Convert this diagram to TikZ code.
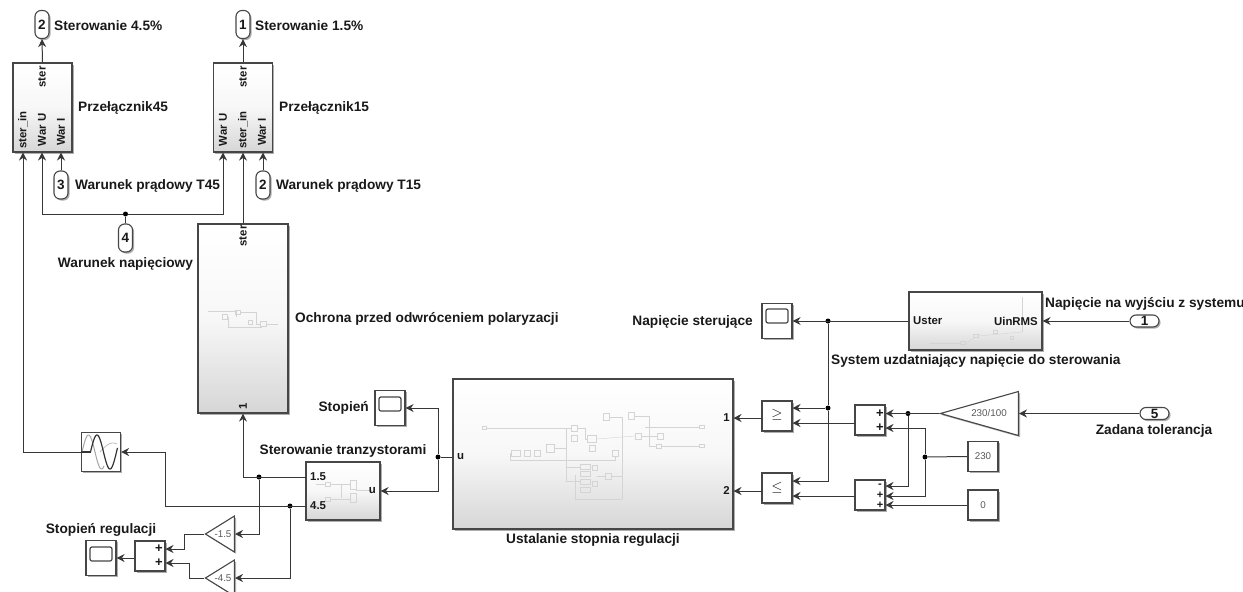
\documentclass[tikz,border=0pt]{standalone}
\usepackage{fontspec}
\setmainfont{Liberation Sans}
\usepackage{tikz}
\usetikzlibrary{arrows.meta, positioning, shapes.geometric, shadows}
\definecolor{liniaszara}{RGB}{55,55,55}
\definecolor{ramka}{RGB}{70,70,70}
\definecolor{tekstblok}{RGB}{25,25,25}
\definecolor{miniatura}{RGB}{212,212,212}
\tikzset{
    wire/.style={draw=liniaszara, line width=1pt},
    strzal/.style={wire, -{Stealth[length=8pt,width=8pt]}},
    blok/.style={rectangle, draw=ramka, line width=1.1pt, fill=white, inner sep=0pt,
        drop shadow={shadow xshift=1.6pt, shadow yshift=-1.6pt, fill=black!45, opacity=0.7}},
    podsystem/.style={blok, top color=white, bottom color=black!16, middle color=black!3},
    pastylka/.style={blok, rounded corners=6pt, font=\fontsize{13.5}{13.5}\selectfont\bfseries, text=tekstblok},
    wzmocnienie/.style={isosceles triangle, isosceles triangle stretches, shape border rotate=180,
        anchor=apex, draw=ramka, line width=1.1pt, fill=white, inner sep=0pt,
        drop shadow={shadow xshift=1.6pt, shadow yshift=-1.6pt, fill=black!45, opacity=0.7}},
    ekran/.style={rectangle, rounded corners=2pt, draw=ramka, line width=1.2pt, inner sep=0pt,
        minimum width=22pt, minimum height=14pt},
    opis/.style={font=\fontsize{13.7}{14}\selectfont\bfseries, text=tekstblok, inner sep=0pt},
    port/.style={font=\fontsize{11.4}{12}\selectfont\bfseries, text=tekstblok, inner sep=0pt},
    maly/.style={font=\fontsize{9.8}{10}\selectfont, text=black!65, inner sep=0pt},
    znak/.style={font=\fontsize{13}{13}\selectfont\bfseries, text=tekstblok, inner sep=0pt},
    znakmaly/.style={font=\fontsize{11}{11}\selectfont\bfseries, text=tekstblok, inner sep=0pt},
    wezel/.style={circle, fill=black, inner sep=0pt, minimum size=5pt},
    mini/.style={draw=miniatura, line width=0.4pt},
}
\begin{document}
\begin{tikzpicture}[x=1pt, y=-1pt]
    \useasboundingbox (0,0) rectangle (1243,592);

    % Bloki
    \node[podsystem, minimum width=59pt, minimum height=89pt] (prz45) at (42.5,107.5) {};
    \node[podsystem, minimum width=59pt, minimum height=89pt] (prz15) at (243,107.5) {};
    \node[podsystem, minimum width=90pt, minimum height=189pt] (ochrona) at (243,318.5) {};
    \node[podsystem, minimum width=74pt, minimum height=58pt] (tranz) at (343,491) {};
    \node[podsystem, minimum width=280pt, minimum height=150pt] (ustal) at (593,454) {};
    \node[podsystem, minimum width=133pt, minimum height=58pt] (uzdat) at (975.5,321) {};

    \node[blok, minimum width=39pt, minimum height=39pt] (sinus) at (101,452) {};
    \node[blok, minimum width=30pt, minimum height=30pt] (suma) at (150,556) {};
    \node[blok, minimum width=30pt, minimum height=35pt] (zakres1) at (101,558) {};
    \node[blok, minimum width=30pt, minimum height=35pt] (zakres2) at (390,408) {};
    \node[blok, minimum width=30pt, minimum height=35pt] (zakres3) at (777,321) {};
    \node[ekran] (ekran1) at (101,554) {};
    \node[ekran] (ekran2) at (390,404) {};
    \node[ekran] (ekran3) at (777,316) {};

    \node[blok, minimum width=30pt, minimum height=30pt] (wiekszy) at (777,416) {};
    \node[blok, minimum width=30pt, minimum height=30pt] (mniejszy) at (777,488) {};
    \node[blok, minimum width=30pt, minimum height=30pt] (sumag) at (870,420) {};
    \node[blok, minimum width=30pt, minimum height=30pt] (sumad) at (870,495) {};
    \node[blok, minimum width=30pt, minimum height=30pt, maly] (st230) at (983,456.5) {230};
    \node[blok, minimum width=30pt, minimum height=30pt, maly] (st0) at (983,505) {0};

    \node[wzmocnienie, minimum width=36pt, minimum height=29pt] (g15) at (204,534) {};
    \node[wzmocnienie, minimum width=36pt, minimum height=29pt] (g45) at (204,578) {};
    \node[wzmocnienie, minimum width=44pt, minimum height=78pt] (g230) at (939,413.5) {};
    \node[maly] (g15t) at (223,534) {-1.5};
    \node[maly] (g45t) at (223,578) {-4.5};
    \node[maly] (g230t) at (989,413) {230/100};

    \node[pastylka, minimum width=14pt, minimum height=28pt] (wy2) at (42,24.5) {2};
    \node[pastylka, minimum width=14pt, minimum height=28pt] (wy1) at (243,24.5) {1};
    \node[pastylka, minimum width=14pt, minimum height=28pt] (we3) at (61,185) {3};
    \node[pastylka, minimum width=14pt, minimum height=28pt] (we2) at (263,185) {2};
    \node[pastylka, minimum width=14pt, minimum height=28pt] (we4) at (125.5,238) {4};
    \node[pastylka, minimum width=29pt, minimum height=12pt] (we1) at (1144.5,321) {1};
    \node[pastylka, minimum width=29pt, minimum height=12pt] (we5) at (1154.5,413.5) {5};

    % Miniatury
    \foreach \x/\y/\w/\h in {484/428/4/3, 516/453/9/6, 527/453/6/6, 537/453/6/6, 550/448/8/8, 574/428/6/6,
        574/438/6/6, 592/439/9/7, 592/448/6/6, 615/453/6/6, 585/467/10/5, 585/474/10/5, 585/482/10/5,
        585/490/10/5, 595/468/5/5, 595/484/5/5, 608/476/6/6, 606/417/6/7, 631/416/6/7, 638/436/6/6,
        660/436/6/6, 659/446/5/4, 702/427/5/3, 702/446/5/3,
        225/317/5/5, 238/312/5/4, 250/322/4/4, 263/324/6/5,
        328/484/5/4, 328/499/5/4, 353/485/6/9, 353/498/6/9,
        963/343/5/3, 976/336/5/3, 995/332/4/3, 1012/338/3/3,
        42/116/6/3, 243/116/6/3}
        \draw[mini] (\x-0.5*\w,\y-0.5*\h) rectangle (\x+0.5*\w,\y+0.5*\h);
    \foreach \lin in {{(486,428)--(571,428)}, {(566,428)--(566,481)--(580,481)}, {(510,453)--(510,460)--(615,460)--(615,456)},
        {(554,448)--(566,448)}, {(566,467)--(580,467)}, {(575,475)--(575,499)--(622,499)}, {(609,417)--(622,417)--(622,499)},
        {(577,428)--(585,428)--(585,439)--(588,439)}, {(597,439)--(635,436)}, {(634,416)--(649,416)--(649,446)--(657,446)},
        {(645,427)--(700,427)}, {(662,446)--(700,446)}, {(641,436)--(657,436)}, {(597,476)--(605,476)}, {(611,476)--(622,476)},
        {(208,311)--(236,311)--(236,317)}, {(241,312)--(256,312)--(256,324)--(260,324)}, {(228,317)--(228,327)--(262,327)}, {(266,324)--(278,324)},
        {(316,484)--(326,484)}, {(331,484)--(350,484)}, {(331,499)--(350,499)}, {(341,484)--(341,498)}, {(356,490)--(372,490)},
        {(930,343)--(960,343)}, {(966,343)--(974,338)}, {(978,336)--(1022,332)}, {(1022,332)--(1022,297)}}
        \draw[mini] \lin;

    % Sinus
    \draw[draw=black!35, line width=1pt, domain=0:22, samples=40, smooth] plot ({82+\x},{452-17*sin(\x*13.85)});
    \draw[draw=black!25, line width=0.8pt, domain=0:17, samples=30, smooth] plot ({100+\x},{452-9*sin(\x*7)});
    \draw[draw=black!80, line width=1.2pt] (sinus.west) -- (90.5,452);
    \draw[draw=black!80, line width=1.2pt, domain=0:27, samples=40, smooth] plot ({90.5+\x},{452-17*sin(\x*13.85)});

    % Znaki
    \node[znak] (sumap1) at (159,549) {+};
    \node[znak] (sumap2) at (159,563) {+};
    \node[znak] (sgp1) at (880,413.5) {+};
    \node[znak] (sgp2) at (880,428) {+};
    \node[znakmaly] (sdm) at (880,485.5) {-};
    \node[znakmaly] (sdp1) at (880,495.5) {+};
    \node[znakmaly] (sdp2) at (880,505.5) {+};
    \node[font=\fontsize{14}{14}\selectfont, text=tekstblok, inner sep=0pt] (zgt) at (777,415) {$\geq$};
    \node[font=\fontsize{14}{14}\selectfont, text=tekstblok, inner sep=0pt] (zlt) at (777,488) {$\leq$};

    % Porty
    \node[port, rotate=90] (p45a) at (23,130) {ster\_in};
    \node[port, rotate=90] (p45b) at (42,130) {War U};
    \node[port, rotate=90] (p45c) at (61,132) {War I};
    \node[port, rotate=90] (p45d) at (42,77) {ster};
    \node[port, rotate=90] (p15a) at (223,130) {War U};
    \node[port, rotate=90] (p15b) at (243,130) {ster\_in};
    \node[port, rotate=90] (p15c) at (262,132) {War I};
    \node[port, rotate=90] (p15d) at (243,77) {ster};
    \node[port, rotate=90] (och1) at (243,236) {ster};
    \node[port, rotate=90] (och2) at (243,406) {1};
    \node[port, anchor=west] (tr1) at (310,477) {1.5};
    \node[port, anchor=west] (tr2) at (310,506) {4.5};
    \node[port, anchor=east] (tr3) at (376,491) {u};
    \node[port, anchor=west] (us1) at (457,457) {u};
    \node[port, anchor=east] (us2) at (730,418) {1};
    \node[port, anchor=east] (us3) at (730,491) {2};
    \node[port, anchor=west] (uz1) at (913,321) {Uster};
    \node[port, anchor=east] (uz2) at (1038,321) {UinRMS};

    % Opisy
    \node[opis, anchor=west] (t1) at (54,26) {Sterowanie 4.5\%};
    \node[opis, anchor=west] (t2) at (255,26) {Sterowanie 1.5\%};
    \node[opis, anchor=west] (t3) at (78,108) {Przełącznik45};
    \node[opis, anchor=west] (t4) at (279,108) {Przełącznik15};
    \node[opis, anchor=west] (t5) at (75,186) {Warunek prądowy T45};
    \node[opis, anchor=west] (t6) at (276,186) {Warunek prądowy T15};
    \node[opis] (t7) at (125.5,264) {Warunek napięciowy};
    \node[opis, anchor=west] (t8) at (295,319) {Ochrona przed odwróceniem polaryzacji};
    \node[opis, anchor=east] (t9) at (369,408) {Stopień};
    \node[opis] (t10) at (343,451) {Sterowanie tranzystorami};
    \node[opis] (t11) at (101,530) {Stopień regulacji};
    \node[opis] (t12) at (593,540) {Ustalanie stopnia regulacji};
    \node[opis, anchor=east] (t13) at (753,322) {Napięcie sterujące};
    \node[opis, anchor=west] (t14) at (1045,304) {Napięcie na wyjściu z systemu};
    \node[opis, anchor=west] (t15) at (831,361) {System uzdatniający napięcie do sterowania};
    \node[opis] (t16) at (1154,431) {Zadana tolerancja};

    % Punkty
    \coordinate (p45in) at (23,152.5);
    \coordinate (p45war) at (42,152.5);
    \coordinate (p45i) at (61,152.5);
    \coordinate (p15war) at (223,152.5);
    \coordinate (p15i) at (263,152.5);
    \coordinate (tr15) at (306,477);
    \coordinate (tr45) at (306,506);
    \coordinate (su1) at (165.5,549);
    \coordinate (su2) at (165.5,563);
    \coordinate (sg1) at (885.5,413.5);
    \coordinate (sg2) at (885.5,428);
    \coordinate (sd1) at (885.5,486);
    \coordinate (sd2) at (885.5,496);
    \coordinate (sd3) at (885.5,505);
    \coordinate (w1) at (792.5,408);
    \coordinate (w2) at (792.5,423);
    \coordinate (m1) at (792.5,481);
    \coordinate (m2) at (792.5,496);
    \coordinate (u1) at (733.5,418);
    \coordinate (u2) at (733.5,491);
    \coordinate (w0) at (762,418);
    \coordinate (m0) at (762,491);
    \coordinate (sg0) at (855,423);
    \coordinate (sd0) at (855,496);
    \node[wezel] (j1) at (125.5,214) {};
    \node[wezel] (j2) at (259,477) {};
    \node[wezel] (j3) at (290,506) {};
    \node[wezel] (j4) at (438,457) {};
    \node[wezel] (j5) at (828,321) {};
    \node[wezel] (j6) at (828,408) {};
    \node[wezel] (j7) at (908,413.5) {};
    \node[wezel] (j8) at (925,457) {};

    % Polaczenia
    \draw[strzal] (prz45.north) -- (wy2.south);
    \draw[strzal] (prz15.north) -- (wy1.south);
    \draw[strzal] (we3.north) -- (p45i);
    \draw[strzal] (we2.north) -- (p15i);
    \draw[wire] (we4.north) -- (j1);
    \draw[strzal] (j1) -| (p45war);
    \draw[strzal] (j1) -| (p15war);
    \draw[strzal] (ochrona.north) -- (prz15.south);
    \draw[strzal] (tr15) -| (ochrona.south);
    \draw[strzal] (sinus.west) -| (p45in);
    \draw[strzal] (tr45) -- ++(-141,0) |- (sinus.east);
    \draw[strzal] (j2) |- (g15.east);
    \draw[strzal] (j3) |- (g45.east);
    \draw[strzal] (g15.west) -- ++(-20,0) |- (su1);
    \draw[strzal] (g45.west) -- ++(-15,0) |- (su2);
    \draw[strzal] (suma.west |- zakres1.center) -- (zakres1.east);
    \draw[strzal] (j4) |- (zakres2.east);
    \draw[strzal] (j4) |- (tranz.east);
    \draw[wire] (j4) -- (ustal.west |- j4);
    \draw[strzal] (we1.west) -- (uzdat.east);
    \draw[strzal] (uzdat.west) -- (zakres3.east);
    \draw[wire] (j5) -- (j6);
    \draw[strzal] (j6) -- (w1);
    \draw[strzal] (j6) |- (m1);
    \draw[strzal] (sg0) -- (w2);
    \draw[strzal] (sd0) -- (m2);
    \draw[strzal] (w0) -- (u1);
    \draw[strzal] (m0) -- (u2);
    \draw[strzal] (we5.west) -- (g230.east);
    \draw[strzal] (g230.west) -- (sg1);
    \draw[strzal] (j7) |- (sd1);
    \draw[wire] (st230.west) -- (j8);
    \draw[strzal] (j8) |- (sg2);
    \draw[strzal] (j8) |- (sd2);
    \draw[strzal] (st0.west) -- (sd3);
\end{tikzpicture}
\end{document}
